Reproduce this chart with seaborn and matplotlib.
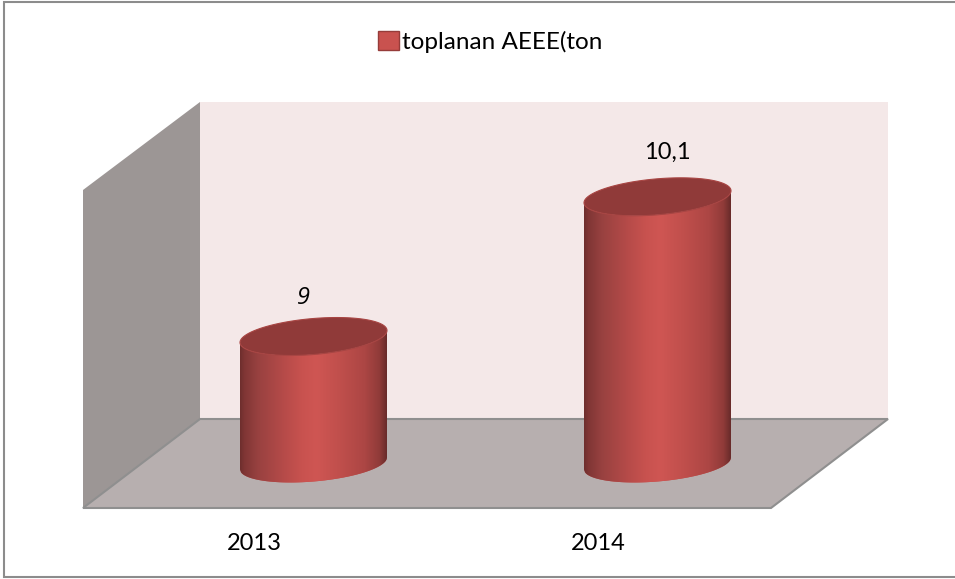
import numpy as np
import pandas as pd
import matplotlib
matplotlib.use('Agg')
import matplotlib.pyplot as plt
import seaborn as sns
from matplotlib.colors import LinearSegmentedColormap
from matplotlib.patches import Patch, PathPatch, Polygon, Rectangle
from matplotlib.path import Path
from matplotlib.transforms import Affine2D, ScaledTranslation

# --- data ---
years = ['2013', '2014']
values = [9, 10.1]
value_labels = ['9', '10,1']
legend_label = 'toplanan AEEE(ton'

sns.set_theme(style='white')
plt.rcParams['font.family'] = ['Lato', 'DejaVu Sans']

W, H = 955, 579
BASE = 8
BASE_PX = 463.5
PX_PER_UNIT = 127
PX_PER_CAT = 344
fig = plt.figure(figsize=(W / 100, H / 100), dpi=100, facecolor='white')

# pixel coordinates for the frame and the 3D box
px = Affine2D().scale(1 / W, -1 / H).translate(0, 1) + fig.transFigure
fig.add_artist(Rectangle((4, 2), W + 20, 575, transform=px, fc='white', ec='#8c8c8c', lw=1.5, zorder=-5))
fig.add_artist(Polygon([(200, 102), (888, 102), (888, 419), (200, 419)], transform=px, fc='#f4e8e8', ec='none', zorder=-4))
fig.add_artist(Polygon([(83, 190), (200, 102), (200, 419), (83, 508)], transform=px, fc='#9c9695', ec='none', zorder=-4))
fig.add_artist(Polygon([(83, 508), (771, 508), (888, 419), (200, 419)], transform=px, fc='#b7afaf', ec='#8f8f8f', lw=1.5, zorder=-3))

# axes runs from y=60 to the front edge of the floor, full width
ax = fig.add_axes([0, (H - 508) / H, 1, (508 - 60) / H])
ax.patch.set_visible(False)

df = pd.DataFrame({'year': years, 'value': values})
sns.barplot(data=df, x='year', y='value', color='#c0504d', saturation=1, width=147 / PX_PER_CAT, ax=ax)

ax.set_xlabel('')
ax.set_ylabel('')
ax.set_yticks([])
ax.tick_params(axis='x', length=0, pad=18, labelsize=17, labelcolor='black')
sns.despine(ax=ax, left=True, bottom=True)

# category labels sit left of the cylinders in the original
shift_left = ScaledTranslation(-59 / 100, 0, fig.dpi_scale_trans)
for tick_label in ax.get_xticklabels():
    tick_label.set_transform(tick_label.get_transform() + shift_left)

body_cmap = LinearSegmentedColormap.from_list('cyl', [
    (0.0, '#6e2e2d'), (0.03, '#803635'), (0.12, '#984140'), (0.3, '#b64b49'), (0.42, '#c8524f'),
    (0.52, '#cf5653'), (0.68, '#c04f4c'), (0.85, '#ac4644'), (0.95, '#903b39'), (1.0, '#682b2a')])

t = np.linspace(0, 2 * np.pi, 121)
for bar, label, up in zip(list(ax.patches), value_labels, [(-10, 39), (10, 44)]):
    x0 = bar.get_x()
    w = bar.get_width()
    top = bar.get_height()
    xc = x0 + w / 2
    a = w / 2
    b = 18 / PX_PER_UNIT
    s = 6 / PX_PER_UNIT

    def rim(tt, yc):
        return xc + a * np.cos(tt), yc + b * np.sin(tt) + s * np.cos(tt)

    # body outline: lower rim at the base and lower rim at the bar top
    tb = np.linspace(np.pi, 2 * np.pi, 61)
    xb, yb = rim(tb, BASE)
    xt, yt = rim(tb[::-1], top)
    outline = Path(np.vstack([np.c_[xb, yb], np.c_[xt, yt], [xb[0], yb[0]]]))
    clip = PathPatch(outline, transform=ax.transData, fc='none', ec='none')
    ax.add_patch(clip)
    bar.set_clip_path(clip)

    grad = np.linspace(0, 1, 256).reshape(1, -1)
    im = ax.imshow(grad, cmap=body_cmap, extent=[x0, x0 + w, BASE - 0.3, top + 0.3], aspect='auto', zorder=3)
    im.set_clip_path(clip)

    # top ellipse
    xe, ye = rim(t, top)
    ax.fill(xe, ye, fc='#903a39', ec='#a84543', lw=0.8, zorder=5)

    ax.annotate(label, (xc, top), xytext=(up[0] * 0.72, up[1] * 0.72), textcoords='offset points',
                ha='center', va='center', fontsize=17, color='black',
                family='Open Sans' if label == '9' else 'Lato',
                style='italic' if label == '9' else 'normal', zorder=6)

ax.set_xlim(-313.5 / PX_PER_CAT, (W - 313.5) / PX_PER_CAT)
ax.set_ylim(BASE - (508 - BASE_PX) / PX_PER_UNIT, BASE + (BASE_PX - 60) / PX_PER_UNIT)

handle = Patch(fc='#c9524f', ec='#963c3a', lw=1)
fig.legend(handles=[handle], labels=[legend_label], loc='center', bbox_to_anchor=(490.5 / W, 1 - 42 / H),
           frameon=False, fontsize=17.5, handlelength=0.85, handleheight=0.85, handletextpad=0.15, labelcolor='black')

fig.savefig('out.png', dpi=100)
